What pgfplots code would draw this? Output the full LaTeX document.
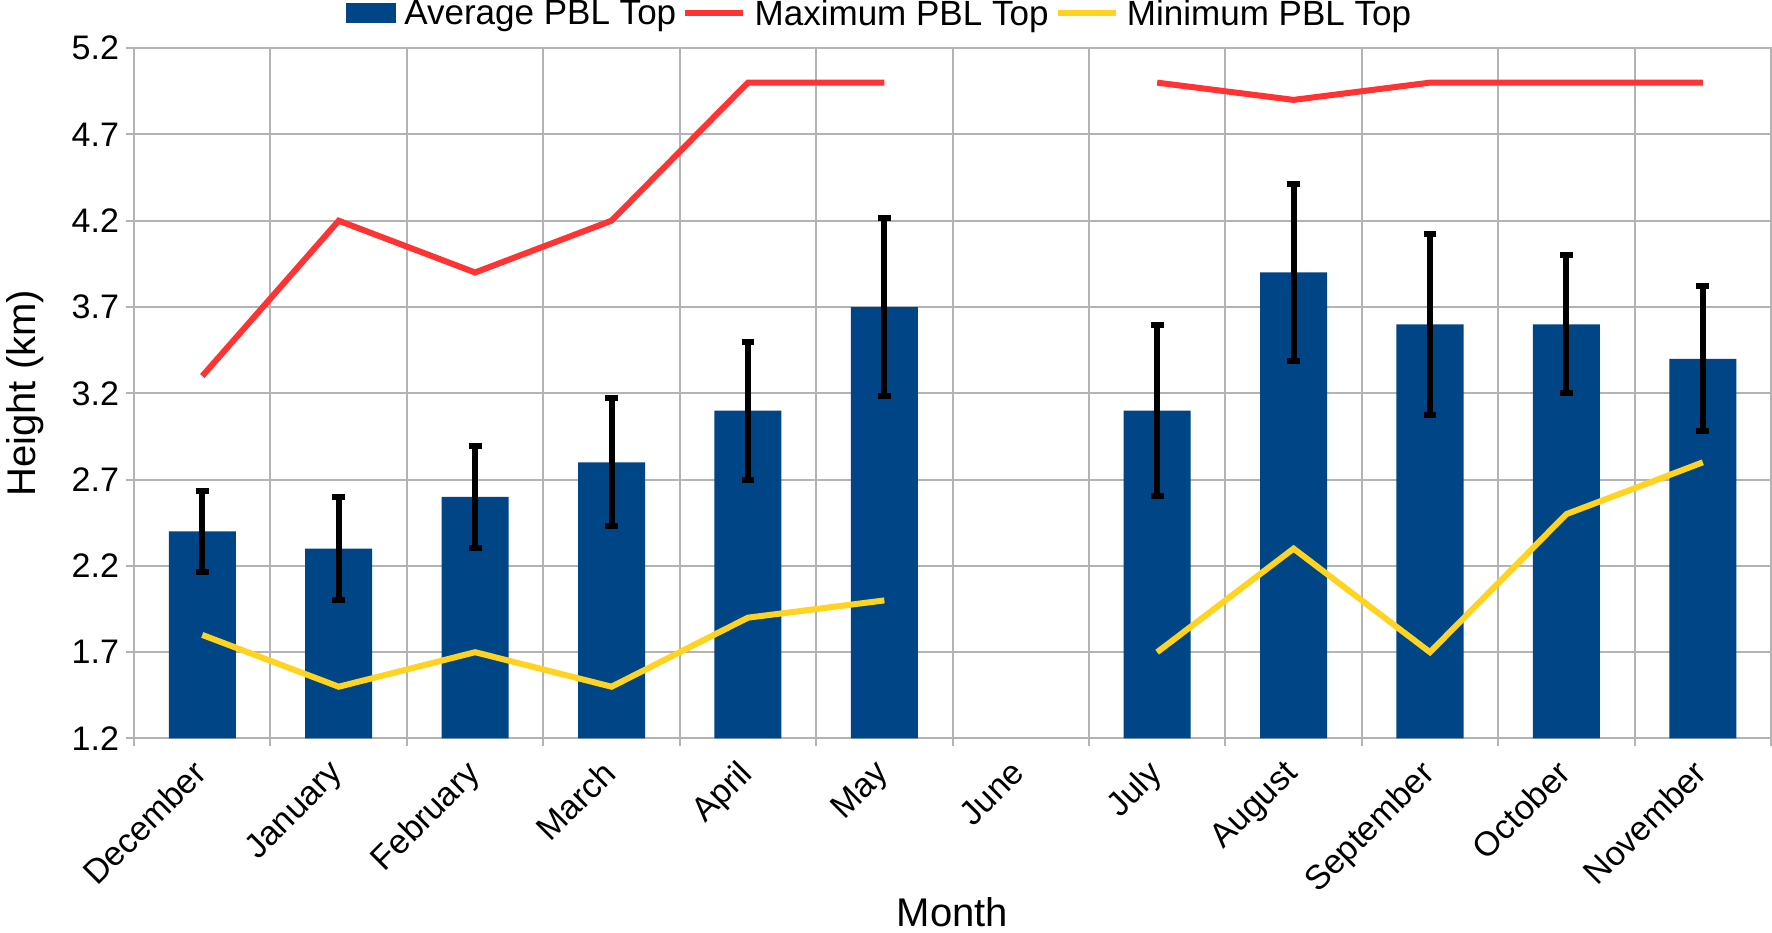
\documentclass[border=0pt]{standalone}
\usepackage{pgfplots}
\pgfplotsset{compat=1.18}
\usepackage{pgfplotstable}
\usepackage{fontspec}
\setmainfont{Liberation Sans}
\definecolor{avgblue}{HTML}{004586}
\definecolor{maxred}{HTML}{FF3333}
\definecolor{minyel}{HTML}{FFD320}
\definecolor{gridgray}{HTML}{B3B3B3}
\pgfplotstableread{
x y e
0 2.4 0.235
1 2.3 0.30
2 2.6 0.295
3 2.8 0.37
4 3.1 0.40
5 3.7 0.515
7 3.1 0.495
8 3.9 0.51
9 3.6 0.525
10 3.6 0.40
11 3.4 0.42
}\avgdata
\pgfplotstableread{
x y
0 3.3
1 4.2
2 3.9
3 4.2
4 5.0
5 5.0
6 nan
7 5.0
8 4.9
9 5.0
10 5.0
11 5.0
}\maxdata
\pgfplotstableread{
x y
0 1.8
1 1.5
2 1.7
3 1.5
4 1.9
5 2.0
6 nan
7 1.7
8 2.3
9 1.7
10 2.5
11 2.8
}\mindata
\begin{document}
\begin{tikzpicture}
\begin{axis}[
  scale only axis,
  width=818pt, height=345pt,
  xmin=-0.5, xmax=11.5,
  ymin=1.2, ymax=5.2,
  ytick={1.2,1.7,2.2,2.7,3.2,3.7,4.2,4.7,5.2},
  yticklabel style={/pgf/number format/fixed,/pgf/number format/fixed zerofill,/pgf/number format/precision=1},
  /pgf/number format/assume math mode=true,
  xtick={0,...,11},
  xticklabels={December,January,February,March,April,May,June,July,August,September,October,November},
  minor xtick={-0.5,0.5,1.5,2.5,3.5,4.5,5.5,6.5,7.5,8.5,9.5,10.5,11.5},
  xminorgrids=true, ymajorgrids=true, xmajorgrids=false,
  grid style={gridgray, line width=1pt},
  minor grid style={gridgray, line width=1pt},
  axis line style={gridgray, line width=1pt},
  major x tick style={draw=none},
  minor x tick style={gridgray, line width=1pt},
  minor tick length=4pt,
  y tick style={gridgray, line width=1pt},
  major tick length=4pt,
  tick align=outside,
  xtick pos=bottom, ytick pos=left,
  tick label style={font=\fontsize{17}{19}\selectfont, black},
  xticklabel style={rotate=45, anchor=north east, inner sep=2pt, yshift=2pt, xshift=-6pt},
  ylabel={Height (km)},
  xlabel={Month},
  label style={font=\fontsize{20}{22}\selectfont},
  ylabel style={yshift=7pt},
  xlabel style={inner sep=3pt, yshift=6.5pt},
  unbounded coords=jump,
  legend style={at={(0.456,1.028)}, anchor=south, legend columns=-1, draw=none, fill=none,
    inner sep=0pt, nodes={inner ysep=0pt},
    font=\fontsize{17.5}{19}\selectfont,
    /tikz/every even column/.append style={column sep=1pt},
    /tikz/every odd column/.append style={column sep=2.2pt}},
  legend cell align=left,
  clip=false,
]
\addplot[ybar, bar width=33.5pt, fill=avgblue, draw=none,
  legend image code/.code={\fill[avgblue] (0pt,-4.5pt) rectangle (25pt,5.5pt);},
  error bars/.cd, y dir=both, y explicit,
  error bar style={line width=3pt, black},
  error mark options={rotate=90, mark size=3.2pt, line width=3pt, black}]
  table[x=x, y=y, y error=e] {\avgdata};
\addlegendentry{Average PBL Top}
\addplot[maxred, line width=3pt, mark=none,
  legend image code/.code={\draw[maxred, line width=3pt] (0pt,0.5pt) -- (29pt,0.5pt);}]
  table[x=x, y=y] {\maxdata};
\addlegendentry{Maximum PBL Top}
\addplot[minyel, line width=3pt, mark=none,
  legend image code/.code={\draw[minyel, line width=3pt] (0pt,0.5pt) -- (29pt,0.5pt);}]
  table[x=x, y=y] {\mindata};
\addlegendentry{Minimum PBL Top}
\end{axis}
\end{tikzpicture}
\end{document}
